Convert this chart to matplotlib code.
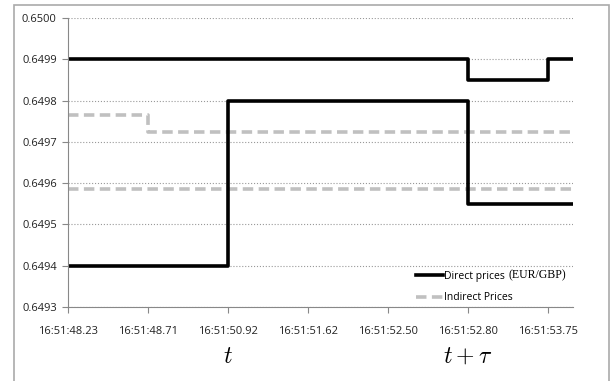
import numpy as np
import matplotlib.pyplot as plt
from matplotlib.patches import Rectangle

# tick labels (time stamps)
tick_labels = ['16:51:48.23', '16:51:48.71', '16:51:50.92', '16:51:51.62',
               '16:51:52.50', '16:51:52.80', '16:51:53.75']

# direct prices: two step series (x = category position)
ask_x = [0, 5, 5, 6, 6, 6.31]
ask_y = [0.6499, 0.6499, 0.64985, 0.64985, 0.6499, 0.6499]
bid_x = [0, 2, 2, 5, 5, 6.31]
bid_y = [0.6494, 0.6494, 0.6498, 0.6498, 0.64955, 0.64955]

# indirect prices
ind1_x = [0, 1, 1, 6.31]
ind1_y = [0.649765, 0.649765, 0.649725, 0.649725]
ind2_x = [0, 6.31]
ind2_y = [0.649585, 0.649585]

plt.rcParams['font.family'] = ['Open Sans', 'DejaVu Sans']
plt.rcParams['mathtext.fontset'] = 'cm'

fig = plt.figure(figsize=(6.13, 3.81), dpi=100)
ax = fig.add_axes([0.1109, 0.1942, 0.8238, 0.7586])

ax.plot(ind1_x, ind1_y, color='#c0c0c0', lw=2.6, dashes=(2.9, 1.5), label='Indirect Prices')
ax.plot(ind2_x, ind2_y, color='#c0c0c0', lw=2.6, dashes=(2.9, 1.5))
ax.plot(ask_x, ask_y, color='black', lw=2.6, label='Direct prices')
ax.plot(bid_x, bid_y, color='black', lw=2.6)

ax.set_xlim(0, 6.31)
ax.set_ylim(0.6493, 0.6500)
ax.set_yticks(np.arange(0.6493, 0.65005, 0.0001))
ax.yaxis.set_major_formatter(plt.FormatStrFormatter('%.4f'))
ax.set_xticks(range(len(tick_labels)))
ax.set_xticklabels(tick_labels)
ax.tick_params(labelsize=8, colors='#222222', length=4, pad=10)
ax.tick_params(axis='y', pad=4)
ax.tick_params(color='#888888')
ax.grid(axis='y', color='#999999', ls=':', lw=0.8)
ax.set_axisbelow(True)
for s in ['top', 'right']:
    ax.spines[s].set_visible(False)
for s in ['left', 'bottom']:
    ax.spines[s].set_color('#888888')

h, l = ax.get_legend_handles_labels()
ax.legend(h[::-1], l[::-1], loc='lower right', frameon=False, fontsize=7.5,
          handlelength=2.6, handletextpad=0.1, labelspacing=1.0,
          bbox_to_anchor=(0.9, -0.02))
ax.text(0.986, 0.108, '(EUR/GBP)', transform=ax.transAxes, ha='right', va='center',
        fontsize=8.5, family='Liberation Serif')

ax.text(2, 0.64918, r'$t$', ha='center', va='center', fontsize=17)
ax.text(5, 0.64918, r'$t+\tau$', ha='center', va='center', fontsize=17)

# outer chart border
fig.patches.append(Rectangle((14 / 613, -0.05), 595 / 613, 1.05 - 5 / 381,
                             transform=fig.transFigure, fill=False,
                             edgecolor='#aaaaaa', lw=1.2))

fig.savefig('out.png', dpi=100)
